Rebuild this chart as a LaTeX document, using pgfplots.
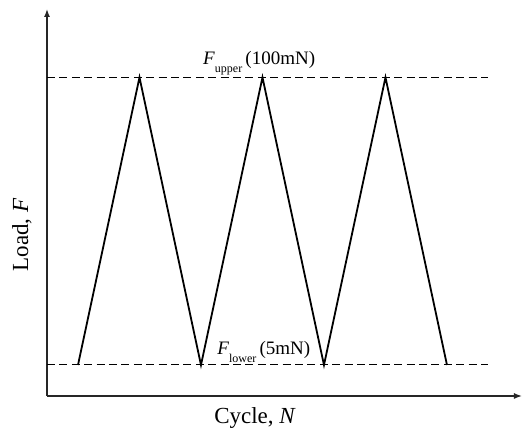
\documentclass[border=0pt]{standalone}
\usepackage{fontspec}
\setmainfont{Liberation Serif}
\usepackage{pgfplots}
\pgfplotsset{compat=1.18}
\usetikzlibrary{arrows.meta}
\begin{document}
\begin{tikzpicture}
  % frame of the whole picture (reference proportions)
  \path[use as bounding box] (-23.5pt,-18.5pt) rectangle (239pt,198pt);
  \begin{axis}[
      scale only axis,
      width=237.5pt,
      height=193.5pt,
      axis lines=left,
      axis line style={line width=0.7pt, black!85, -{Latex[length=4pt,width=3pt]}},
      xmin=-0.504, xmax=7.22,
      ymin=-5.24, ymax=122.6,
      xtick=\empty, ytick=\empty,
      clip=false,
    ]
    % bounds
    \addplot[black, line width=0.5pt, dash pattern=on 4pt off 2.2pt]
      coordinates {(-0.504,100) (6.67,100)};
    \addplot[black, line width=0.5pt, dash pattern=on 4pt off 2.2pt]
      coordinates {(-0.504,5) (6.67,5)};
    % triangular loading
    \addplot[black, line width=0.9pt] coordinates {
      (0,5) (1,100) (2,5) (3,100) (4,5) (5,100) (6,5)
    };

    \node[anchor=base west, inner sep=0, font=\fontsize{9.5pt}{11pt}\selectfont]
      at (axis cs:2.03,104.1)
      {\textit{F}\raisebox{-4pt}{\fontsize{6pt}{7pt}\selectfont upper}\,(100mN)};
    \node[anchor=base west, inner sep=0, font=\fontsize{9.5pt}{11pt}\selectfont]
      at (axis cs:2.26,8.4)
      {\textit{F}\raisebox{-4pt}{\fontsize{6pt}{7pt}\selectfont lower}\,(5mN)};

    \node[font=\fontsize{11.5pt}{13pt}\selectfont]
      at (axis description cs:0.438,-0.057) {Cycle, \textit{N}};
    \node[rotate=90, font=\fontsize{11.5pt}{13pt}\selectfont]
      at (axis description cs:-0.053,0.416) {Load, \textit{F}};
  \end{axis}
\end{tikzpicture}
\end{document}
